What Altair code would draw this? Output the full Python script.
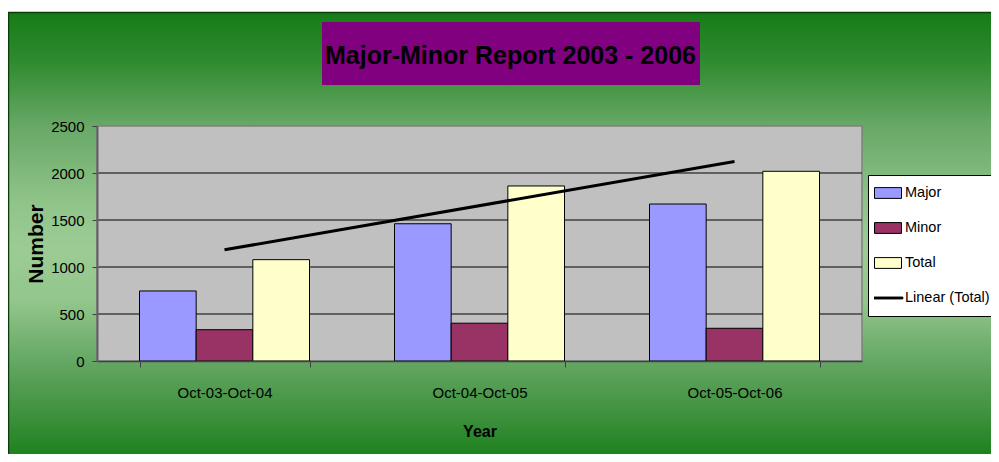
import json
import altair as alt
import pandas as pd

# ---- data ----
periods = ["Oct-03-Oct-04", "Oct-04-Oct-05", "Oct-05-Oct-06"]
period_index = [1, 2, 3]
major = [745, 1460, 1670]
minor = [333, 402, 348]
total = [1078, 1862, 2018]
series_names = ["Major", "Minor", "Total"]
trend_name = "Linear (Total)"
series_colors = ["#9999ff", "#993366", "#ffffcc", "#000000"]
y_ticks = [0, 500, 1000, 1500, 2000, 2500]
chart_title = "Major-Minor Report 2003 - 2006"

wide = pd.DataFrame({"Period": periods, "idx": period_index,
                     "Major": major, "Minor": minor, "Total": total})
long = wide.melt(id_vars=["Period", "idx"], value_vars=series_names,
                 var_name="Series", value_name="Number")
grid = pd.DataFrame({"Number": y_ticks[1:-1]})

W, H = 765, 235
FONT = "Liberation Sans, Arial, sans-serif"

x_scale = alt.Scale(domain=periods, paddingInner=1 / 3, paddingOuter=1 / 6)
y_scale = alt.Scale(domain=[0, 2500], nice=False)
color_scale = alt.Scale(domain=series_names + [trend_name], range=series_colors)

x_axis = alt.Axis(title="Year", labelFont=FONT, labelFontSize=15, labelColor="black",
                  labelAngle=0, labelPadding=18, tickBand="extent", tickSize=6,
                  tickColor="#404040", domainColor="#404040", domainWidth=1.5,
                  titleFont=FONT, titleFontSize=16, titleFontWeight="bold",
                  titleColor="black", titlePadding=23, grid=False, zindex=1)
y_axis = alt.Axis(title="Number", values=y_ticks, format="d", labelFont=FONT,
                  labelFontSize=15, labelColor="black", labelPadding=8, tickSize=5,
                  tickColor="#404040", domainColor="#606060", domainWidth=2,
                  titleFont=FONT, titleFontSize=21, titleFontWeight="bold",
                  titleColor="black", titlePadding=4, grid=False, zindex=1)

rect_path = "M-1,-0.4H1V0.4H-1Z"
line_path = "M-1.1,-0.07H1.1V0.07H-1.1Z"
legend = alt.Legend(
    title=None, orient="none", legendX=771, legendY=49, padding=6,
    fillColor="white", strokeColor="black",
    clipHeight=24, rowPadding=11, symbolSize=729,
    symbolType={"expr": "datum.value === '" + trend_name + "' ? '" + line_path + "' : '" + rect_path + "'"},
    symbolStrokeColor="black", symbolStrokeWidth=1,
    labelOffset=3, labelFont=FONT, labelFontSize=14.5, labelColor="black",
    zindex=2,
)

one = alt.Data(values=[{"k": 1}])

bg_fill = alt.Gradient(
    gradient="linear", x1=0, y1=0, x2=0, y2=1,
    stops=[
        alt.GradientStop(offset=0.0, color="#167c16"),
        alt.GradientStop(offset=0.10, color="#2e8a2e"),
        alt.GradientStop(offset=0.24, color="#68a866"),
        alt.GradientStop(offset=0.40, color="#8fc489"),
        alt.GradientStop(offset=0.50, color="#9ccc94"),
        alt.GradientStop(offset=0.61, color="#92c68b"),
        alt.GradientStop(offset=0.755, color="#5ea35e"),
        alt.GradientStop(offset=0.86, color="#3a8f3a"),
        alt.GradientStop(offset=0.95, color="#177f17"),
        alt.GradientStop(offset=1.0, color="#167c16"),
    ],
)

background = alt.Chart(one).mark_rect(fill=bg_fill, stroke="#0b3d0b", strokeWidth=1.5).encode(
    x=alt.value(-88.5), x2=alt.value(940), y=alt.value(-113.5), y2=alt.value(360))

title_box = alt.Chart(one).mark_rect(fill="#800080").encode(
    x=alt.value(225), x2=alt.value(603), y=alt.value(-104), y2=alt.value(-41))

title_text = alt.Chart(one).mark_text(
    text=chart_title, font=FONT, fontSize=25, fontWeight="bold", color="black",
    align="center", baseline="middle").encode(x=alt.value(413.5), y=alt.value(-70))

plot_bg = alt.Chart(one).mark_rect(fill="#c0c0c0", stroke="#808080", strokeWidth=1.5).encode(
    x=alt.value(0), x2=alt.value(W), y=alt.value(0), y2=alt.value(H))

grid_rules = alt.Chart(grid).mark_rule(color="black", strokeWidth=1).encode(
    y=alt.Y("Number:Q", scale=y_scale, axis=y_axis),
    x=alt.value(0), x2=alt.value(W))

bars = alt.Chart(long).mark_bar(stroke="black", strokeWidth=1).encode(
    x=alt.X("Period:N", scale=x_scale, sort=periods, axis=x_axis),
    xOffset=alt.XOffset("Series:N", sort=series_names,
                        scale=alt.Scale(domain=series_names, paddingInner=0, paddingOuter=0)),
    y=alt.Y("Number:Q", scale=y_scale, axis=y_axis),
    color=alt.Color("Series:N", scale=color_scale, legend=legend),
)

period_js = json.dumps(periods)
trend = alt.Chart(wide).transform_regression(
    "idx", "Total", method="linear", as_=["idx", "Number"]
).transform_calculate(
    Period=period_js + "[round(datum.idx) - 1]",
).mark_line(color="black", strokeWidth=3).encode(
    x=alt.X("Period:N", scale=x_scale, sort=periods, axis=x_axis),
    y=alt.Y("Number:Q", scale=y_scale, axis=y_axis),
)

chart = alt.layer(background, title_box, title_text, plot_bg, grid_rules, bars, trend).properties(
    width=W, height=H,
    autosize=alt.AutoSizeParams(type="none"),
    padding={"left": 89, "top": 118, "right": 129, "bottom": 93},
).configure_view(strokeWidth=0)

chart.save("out.html", embed_options={"renderer": "svg", "actions": False})
